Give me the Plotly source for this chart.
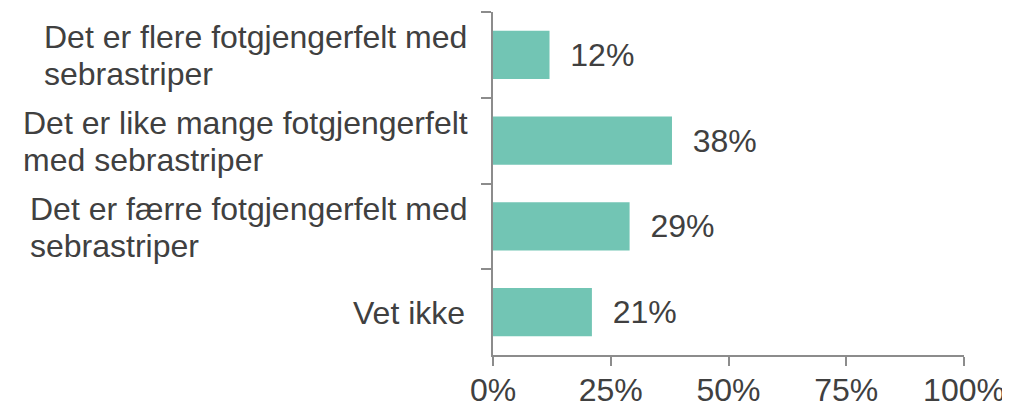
import plotly.graph_objects as go

categories = [
    "Det er flere fotgjengerfelt med<br>sebrastriper",
    "Det er like mange fotgjengerfelt<br>med sebrastriper",
    "Det er færre fotgjengerfelt med<br>sebrastriper",
    "Vet ikke",
]
values = [12, 38, 29, 21]
x_ticks = [0, 25, 50, 75, 100]
x_tick_labels = ["0%", "25%", "50%", "75%", "100%"]

BAR = "#72C5B4"
TXT = "#404040"
AX = "#8c8c8c"
FONT = "Liberation Sans, Arial, sans-serif"
FS = 32

# page body has an 8px margin in the browser; the figure is sized to fit
W, H = 1002, 399
L, R, T, B = 485, 46, 4, 52
LINE_GAP = 37          # px between the two lines of a category label
RIGHT_GAP = 27         # px between label right edge and the y axis
# left edge (pixels left of axis) of two-line label blocks, per category
block_left = [-450, -471, -464, None]

fig = go.Figure()
fig.add_trace(go.Bar(
    x=values,
    y=categories,
    orientation="h",
    marker=dict(color=BAR, line=dict(width=0)),
    width=0.56,
    text=["  " + f"{v}%" for v in values],
    textposition="outside",
    textfont=dict(family=FONT, size=FS, color=TXT),
    cliponaxis=False,
    hoverinfo="skip",
))

for cat, left in zip(categories, block_left):
    lines = cat.split("<br>")
    if len(lines) == 1:
        fig.add_annotation(
            x=0, xref="paper", y=cat, yref="y", text=lines[0], showarrow=False,
            xanchor="right", yanchor="middle", xshift=-RIGHT_GAP, yshift=-1,
            font=dict(family=FONT, size=FS, color=TXT), borderpad=0,
        )
    else:
        n = len(lines)
        for i, ln in enumerate(lines):
            ys = (n - 1) / 2 * LINE_GAP - i * LINE_GAP - 1
            fig.add_annotation(
                x=0, xref="paper", y=cat, yref="y", text=ln, showarrow=False,
                xanchor="left", yanchor="middle", xshift=left, yshift=ys,
                font=dict(family=FONT, size=FS, color=TXT), borderpad=0,
            )

fig.update_layout(
    width=W, height=H,
    margin=dict(l=L, r=R, t=T, b=B),
    paper_bgcolor="white", plot_bgcolor="white",
    showlegend=False,
    font=dict(family=FONT, size=FS, color=TXT),
)
fig.update_xaxes(
    range=[0, 100], tickvals=x_ticks, ticktext=x_tick_labels,
    showgrid=False, zeroline=False,
    showline=True, linecolor=AX, linewidth=1.5,
    ticks="outside", ticklen=9, tickcolor=AX, tickwidth=1.5,
    tickfont=dict(family=FONT, size=FS, color=TXT),
    ticklabelstandoff=-3,
    automargin=False,
)
fig.update_yaxes(
    autorange="reversed", type="category",
    showticklabels=False, showgrid=False, zeroline=False,
    showline=True, linecolor=AX, linewidth=1.5,
    ticks="outside", ticklen=10, tickcolor=AX, tickwidth=1.5,
    tickson="boundaries", automargin=False,
)

fig.write_html("out.html")
